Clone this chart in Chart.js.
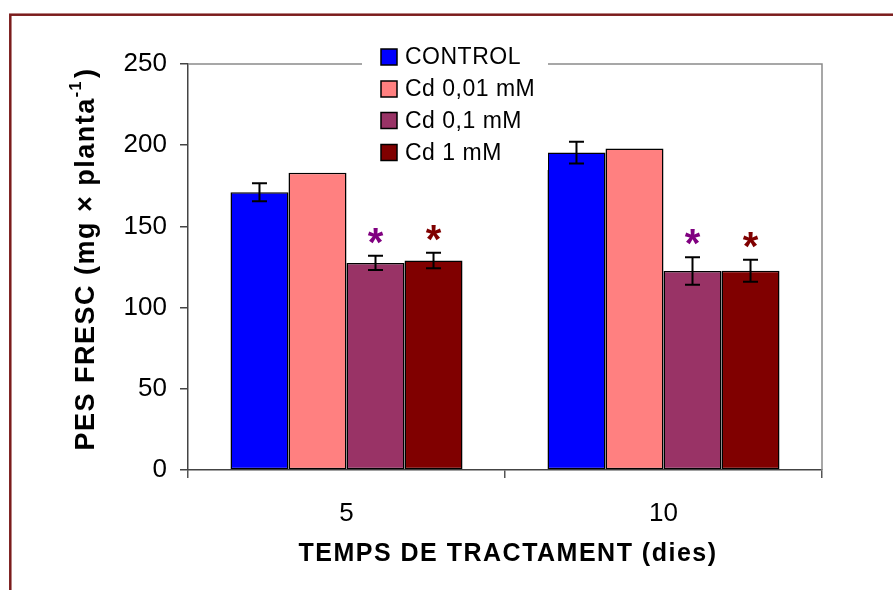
<!DOCTYPE html>
<html>
<head>
<meta charset="utf-8">
<script src="https://cdn.jsdelivr.net/npm/chart.js@4/dist/chart.umd.min.js"></script>
<style>
  body { margin: 0; background: #fff; }
  canvas { display: block; }
</style>
</head>
<body>
<canvas id="pesChart" width="893" height="590"></canvas>
<script>
const FONT = "Arial, 'Liberation Sans', sans-serif";

const categories = ["5", "10"];
const seriesNames = ["CONTROL", "Cd 0,01 mM", "Cd 0,1 mM", "Cd 1 mM"];
const control = [171, 195.5];
const cd001 = [183, 198];
const cd01 = [127.5, 122.5];
const cd1 = [129, 122.7];
const controlErr = [5.5, 6.7];
const cd001Err = [null, null];
const cd01Err = [4.4, 8.5];
const cd1Err = [4.8, 6.8];
// significance marks: true = asterisk above the bar
const cd01Star = [true, true];
const cd1Star = [true, true];
const yTicks = [0, 50, 100, 150, 200, 250];

const barColors = ["#0000ff", "#ff8080", "#993366", "#800000"];
const starColors = [null, null, "#800080", "#800000"];
const errors = [controlErr, cd001Err, cd01Err, cd1Err];
const stars = [[false, false], [false, false], cd01Star, cd1Star];

// frame, plot border, error bars, asterisks, legend, axis titles
const decorations = {
    id: "decorations",
    beforeDraw(chart) {
        const ctx = chart.ctx;
        ctx.save();
        ctx.fillStyle = "#fff";
        ctx.fillRect(0, 0, chart.width, chart.height);
        ctx.strokeStyle = "#7b1c1c";
        ctx.lineWidth = 2.5;
        ctx.strokeRect(10.3, 14.7, 2000, 2000);
        ctx.restore();
    },
    afterDraw(chart) {
        const ctx = chart.ctx;
        const area = chart.chartArea;
        const y = chart.scales.y;
        ctx.save();

        // top and right border of plot area
        ctx.strokeStyle = "#8a8a8a";
        ctx.lineWidth = 1.5;
        ctx.beginPath();
        ctx.moveTo(area.left, area.top);
        ctx.lineTo(area.right, area.top);
        ctx.lineTo(area.right, area.bottom);
        ctx.stroke();

        // error bars
        ctx.strokeStyle = "#000";
        ctx.lineWidth = 2;
        errors.forEach((errs, di) => {
            const meta = chart.getDatasetMeta(di);
            const vals = chart.data.datasets[di].data;
            meta.data.forEach((bar, i) => {
                const e = errs[i];
                if (e == null) return;
                const yt = y.getPixelForValue(vals[i] + e);
                const yb = y.getPixelForValue(vals[i] - e);
                ctx.beginPath();
                ctx.moveTo(bar.x, yt); ctx.lineTo(bar.x, yb);
                ctx.moveTo(bar.x - 7.5, yt); ctx.lineTo(bar.x + 7.5, yt);
                ctx.moveTo(bar.x - 7.5, yb); ctx.lineTo(bar.x + 7.5, yb);
                ctx.stroke();
            });
        });

        // asterisks
        ctx.font = "bold 40px " + FONT;
        ctx.textAlign = "center";
        ctx.textBaseline = "alphabetic";
        stars.forEach((flags, di) => {
            const meta = chart.getDatasetMeta(di);
            const vals = chart.data.datasets[di].data;
            meta.data.forEach((bar, i) => {
                if (!flags[i]) return;
                const top = y.getPixelForValue(vals[i] + (errors[di][i] || 0));
                const m = ctx.measureText("*");
                const cy = top - 20;
                const base = cy + (m.actualBoundingBoxAscent - m.actualBoundingBoxDescent) / 2;
                ctx.fillStyle = starColors[di];
                ctx.fillText("*", bar.x, base);
            });
        });

        // legend
        ctx.fillStyle = "#fff";
        ctx.fillRect(362, 38, 186, 132);
        const rows = [57, 89, 120.5, 152.5];
        ctx.font = "23px " + FONT;
        ctx.letterSpacing = "0.5px";
        ctx.textAlign = "left";
        ctx.textBaseline = "middle";
        seriesNames.forEach((name, i) => {
            ctx.fillStyle = barColors[i];
            ctx.fillRect(381, rows[i] - 8, 16, 16);
            ctx.strokeStyle = "#000";
            ctx.lineWidth = 1.5;
            ctx.strokeRect(381, rows[i] - 8, 16, 16);
            ctx.fillStyle = "#000";
            ctx.fillText(name, 405, rows[i] + 1);
        });

        // x axis title
        ctx.fillStyle = "#000";
        ctx.font = "bold 25px " + FONT;
        ctx.letterSpacing = "1.5px";
        ctx.textAlign = "center";
        ctx.textBaseline = "middle";
        ctx.fillText("TEMPS DE TRACTAMENT (dies)", 508, 554);

        // y axis title with superscript
        const main = "PES FRESC (mg \u00d7 planta";
        const sup = "-1";
        const close = ")";
        ctx.translate(84, 259);
        ctx.rotate(-Math.PI / 2);
        ctx.textAlign = "left";
        ctx.textBaseline = "alphabetic";
        ctx.letterSpacing = "1.5px";
        ctx.font = "bold 27px " + FONT;
        const wMain = ctx.measureText(main).width;
        const wClose = ctx.measureText(close).width;
        ctx.font = "bold 16px " + FONT;
        const wSup = ctx.measureText(sup).width;
        let x0 = -(wMain + wSup + wClose + 2) / 2;
        ctx.font = "bold 27px " + FONT;
        ctx.fillText(main, x0, 10);
        ctx.font = "bold 16px " + FONT;
        ctx.fillText(sup, x0 + wMain, -3);
        ctx.font = "bold 27px " + FONT;
        ctx.fillText(close, x0 + wMain + wSup + 2, 10);
        ctx.restore();
    }
};

const ctx = document.getElementById("pesChart").getContext("2d");

new Chart(ctx, {
    type: "bar",
    data: {
        labels: categories,
        datasets: [control, cd001, cd01, cd1].map((vals, i) => ({
            label: seriesNames[i],
            data: vals,
            backgroundColor: barColors[i],
            borderColor: "#000",
            borderWidth: 1.5,
            borderSkipped: false,
            categoryPercentage: 0.732,
            barPercentage: 1.0
        }))
    },
    options: {
        responsive: false,
        animation: false,
        layout: {
            padding: { left: 0, top: 64, right: 71, bottom: 0 }
        },
        plugins: {
            legend: { display: false },
            tooltip: { enabled: false }
        },
        scales: {
            x: {
                grid: {
                    offset: true,
                    drawOnChartArea: false,
                    tickLength: 8,
                    color: "#555",
                    lineWidth: 1.5
                },
                border: { color: "#444", width: 1.5 },
                ticks: {
                    color: "#000",
                    font: { family: FONT, size: 26 },
                    padding: 20
                },
                afterFit(scale) { scale.height = 120; }
            },
            y: {
                min: 0,
                max: 250,
                afterBuildTicks(scale) {
                    scale.ticks = yTicks.map(v => ({ value: v }));
                },
                grid: {
                    drawOnChartArea: false,
                    tickLength: 8,
                    color: "#444",
                    lineWidth: 1.5
                },
                border: { color: "#444", width: 1.5 },
                ticks: {
                    color: "#000",
                    font: { family: FONT, size: 26 },
                    padding: 13
                },
                afterFit(scale) { scale.width = 188; }
            }
        }
    },
    plugins: [decorations]
});
</script>
</body>
</html>
